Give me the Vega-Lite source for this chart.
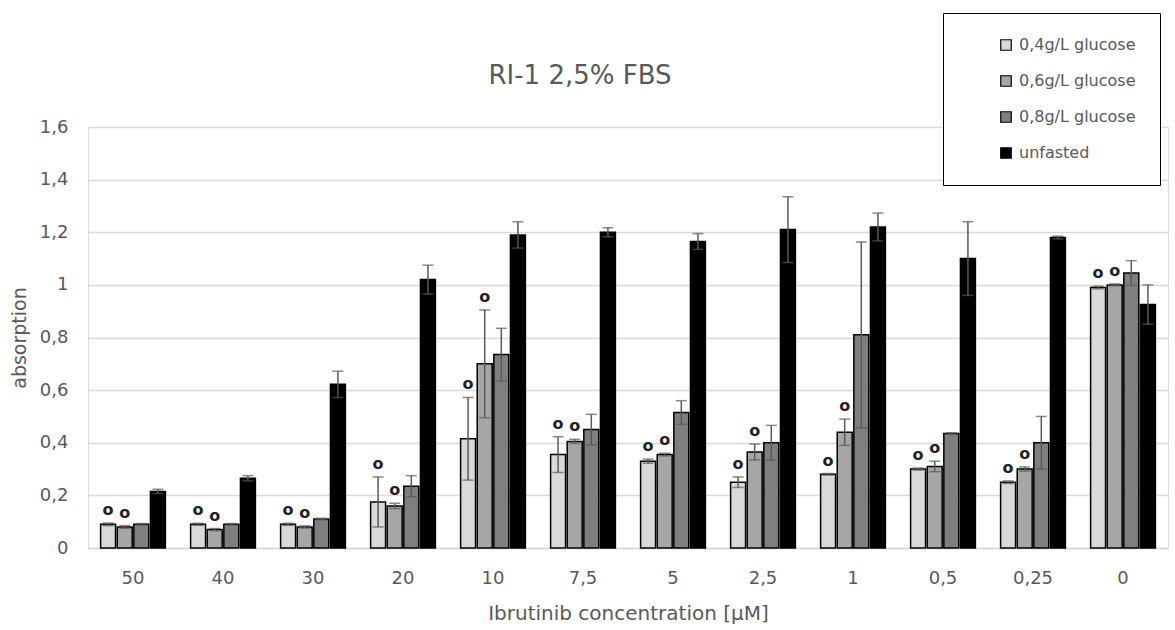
{
  "$schema": "https://vega.github.io/schema/vega-lite/v6.json",
  "width": 1080,
  "height": 421,
  "autosize": {"type": "none"},
  "padding": {"left": 88, "top": 127, "right": 7, "bottom": 82},
  "background": "white",
  "title": {
    "text": "RI-1 2,5% FBS",
    "font": "DejaVu Sans",
    "fontSize": 26,
    "fontWeight": "normal",
    "color": "#595959",
    "anchor": "middle",
    "frame": "group",
    "baseline": "alphabetic",
    "offset": -97,
    "dx": -48
  },
  "data": {
    "values": [
      {"conc": "50", "series": "0,4g/L glucose", "value": 0.09, "lo": 0.085, "hi": 0.095, "sig": "o"},
      {"conc": "50", "series": "0,6g/L glucose", "value": 0.08, "lo": 0.075, "hi": 0.085, "sig": "o"},
      {"conc": "50", "series": "0,8g/L glucose", "value": 0.09, "lo": 0.087, "hi": 0.093, "sig": ""},
      {"conc": "50", "series": "unfasted", "value": 0.215, "lo": 0.207, "hi": 0.223, "sig": ""},
      {"conc": "40", "series": "0,4g/L glucose", "value": 0.09, "lo": 0.086, "hi": 0.094, "sig": "o"},
      {"conc": "40", "series": "0,6g/L glucose", "value": 0.07, "lo": 0.066, "hi": 0.074, "sig": "o"},
      {"conc": "40", "series": "0,8g/L glucose", "value": 0.09, "lo": 0.087, "hi": 0.093, "sig": ""},
      {"conc": "40", "series": "unfasted", "value": 0.265, "lo": 0.255, "hi": 0.275, "sig": ""},
      {"conc": "30", "series": "0,4g/L glucose", "value": 0.09, "lo": 0.086, "hi": 0.094, "sig": "o"},
      {"conc": "30", "series": "0,6g/L glucose", "value": 0.08, "lo": 0.076, "hi": 0.084, "sig": "o"},
      {"conc": "30", "series": "0,8g/L glucose", "value": 0.11, "lo": 0.107, "hi": 0.113, "sig": ""},
      {"conc": "30", "series": "unfasted", "value": 0.622, "lo": 0.572, "hi": 0.672, "sig": ""},
      {"conc": "20", "series": "0,4g/L glucose", "value": 0.175, "lo": 0.08, "hi": 0.27, "sig": "o"},
      {"conc": "20", "series": "0,6g/L glucose", "value": 0.16, "lo": 0.15, "hi": 0.17, "sig": "o"},
      {"conc": "20", "series": "0,8g/L glucose", "value": 0.235, "lo": 0.195, "hi": 0.275, "sig": ""},
      {"conc": "20", "series": "unfasted", "value": 1.02, "lo": 0.965, "hi": 1.075, "sig": ""},
      {"conc": "10", "series": "0,4g/L glucose", "value": 0.415, "lo": 0.258, "hi": 0.572, "sig": "o"},
      {"conc": "10", "series": "0,6g/L glucose", "value": 0.7, "lo": 0.495, "hi": 0.905, "sig": "o"},
      {"conc": "10", "series": "0,8g/L glucose", "value": 0.735, "lo": 0.635, "hi": 0.835, "sig": ""},
      {"conc": "10", "series": "unfasted", "value": 1.19, "lo": 1.14, "hi": 1.24, "sig": ""},
      {"conc": "7,5", "series": "0,4g/L glucose", "value": 0.355, "lo": 0.287, "hi": 0.423, "sig": "o"},
      {"conc": "7,5", "series": "0,6g/L glucose", "value": 0.405, "lo": 0.397, "hi": 0.413, "sig": "o"},
      {"conc": "7,5", "series": "0,8g/L glucose", "value": 0.45, "lo": 0.392, "hi": 0.508, "sig": ""},
      {"conc": "7,5", "series": "unfasted", "value": 1.2, "lo": 1.183, "hi": 1.217, "sig": ""},
      {"conc": "5", "series": "0,4g/L glucose", "value": 0.33, "lo": 0.322, "hi": 0.338, "sig": "o"},
      {"conc": "5", "series": "0,6g/L glucose", "value": 0.355, "lo": 0.35, "hi": 0.36, "sig": "o"},
      {"conc": "5", "series": "0,8g/L glucose", "value": 0.515, "lo": 0.47, "hi": 0.56, "sig": ""},
      {"conc": "5", "series": "unfasted", "value": 1.165, "lo": 1.135, "hi": 1.195, "sig": ""},
      {"conc": "2,5", "series": "0,4g/L glucose", "value": 0.25, "lo": 0.23, "hi": 0.27, "sig": "o"},
      {"conc": "2,5", "series": "0,6g/L glucose", "value": 0.365, "lo": 0.335, "hi": 0.395, "sig": "o"},
      {"conc": "2,5", "series": "0,8g/L glucose", "value": 0.4, "lo": 0.334, "hi": 0.466, "sig": ""},
      {"conc": "2,5", "series": "unfasted", "value": 1.21, "lo": 1.085, "hi": 1.335, "sig": ""},
      {"conc": "1", "series": "0,4g/L glucose", "value": 0.28, "lo": 0.277, "hi": 0.283, "sig": "o"},
      {"conc": "1", "series": "0,6g/L glucose", "value": 0.44, "lo": 0.39, "hi": 0.49, "sig": "o"},
      {"conc": "1", "series": "0,8g/L glucose", "value": 0.81, "lo": 0.457, "hi": 1.163, "sig": ""},
      {"conc": "1", "series": "unfasted", "value": 1.22, "lo": 1.167, "hi": 1.273, "sig": ""},
      {"conc": "0,5", "series": "0,4g/L glucose", "value": 0.3, "lo": 0.296, "hi": 0.304, "sig": "o"},
      {"conc": "0,5", "series": "0,6g/L glucose", "value": 0.31, "lo": 0.29, "hi": 0.33, "sig": "o"},
      {"conc": "0,5", "series": "0,8g/L glucose", "value": 0.435, "lo": 0.432, "hi": 0.438, "sig": ""},
      {"conc": "0,5", "series": "unfasted", "value": 1.1, "lo": 0.96, "hi": 1.24, "sig": ""},
      {"conc": "0,25", "series": "0,4g/L glucose", "value": 0.25, "lo": 0.245, "hi": 0.255, "sig": "o"},
      {"conc": "0,25", "series": "0,6g/L glucose", "value": 0.3, "lo": 0.292, "hi": 0.308, "sig": "o"},
      {"conc": "0,25", "series": "0,8g/L glucose", "value": 0.4, "lo": 0.3, "hi": 0.5, "sig": ""},
      {"conc": "0,25", "series": "unfasted", "value": 1.18, "lo": 1.175, "hi": 1.185, "sig": ""},
      {"conc": "0", "series": "0,4g/L glucose", "value": 0.99, "lo": 0.985, "hi": 0.995, "sig": "o"},
      {"conc": "0", "series": "0,6g/L glucose", "value": 1.0, "lo": 0.997, "hi": 1.003, "sig": "o"},
      {"conc": "0", "series": "0,8g/L glucose", "value": 1.045, "lo": 0.998, "hi": 1.092, "sig": ""},
      {"conc": "0", "series": "unfasted", "value": 0.925, "lo": 0.85, "hi": 1.0, "sig": ""}
    ]
  },
  "encoding": {
    "x": {
      "field": "conc",
      "type": "nominal",
      "sort": ["50", "40", "30", "20", "10", "7,5", "5", "2,5", "1", "0,5", "0,25", "0"],
      "scale": {"paddingInner": 0.28, "paddingOuter": 0.14},
      "axis": {
        "title": "Ibrutinib concentration [µM]",
        "labelAngle": 0,
        "ticks": false,
        "domainColor": "#d9d9d9",
        "domainWidth": 1.5,
        "labelFont": "DejaVu Sans",
        "labelFontSize": 18,
        "labelColor": "#595959",
        "labelPadding": 21,
        "titleFont": "DejaVu Sans",
        "titleFontSize": 20,
        "titleFontWeight": "normal",
        "titleColor": "#595959",
        "titlePadding": 16
      }
    },
    "xOffset": {
      "field": "series",
      "type": "nominal",
      "sort": ["0,4g/L glucose", "0,6g/L glucose", "0,8g/L glucose", "unfasted"],
      "scale": {"paddingInner": 0.1, "paddingOuter": 0}
    }
  },
  "layer": [
    {
      "mark": {"type": "bar", "stroke": "black", "strokeWidth": 1.5},
      "encoding": {
        "y": {
          "field": "value",
          "type": "quantitative",
          "scale": {"domain": [0, 1.6], "nice": false},
          "axis": {
            "title": "absorption",
            "values": [0, 0.2, 0.4, 0.6, 0.8, 1, 1.2, 1.4, 1.6],
            "format": "~g",
            "labelExpr": "replace(datum.label, '.', ',')",
            "domain": false,
            "ticks": false,
            "grid": true,
            "gridColor": "#d9d9d9",
            "gridWidth": 1.5,
            "labelFont": "DejaVu Sans",
            "labelFontSize": 18,
            "labelColor": "#595959",
            "labelPadding": 20,
            "titleFont": "DejaVu Sans",
            "titleFontSize": 19,
            "titleFontWeight": "normal",
            "titleColor": "#595959",
            "titlePadding": 10
          }
        },
        "color": {
          "field": "series",
          "type": "nominal",
          "sort": ["0,4g/L glucose", "0,6g/L glucose", "0,8g/L glucose", "unfasted"],
          "scale": {
            "domain": ["0,4g/L glucose", "0,6g/L glucose", "0,8g/L glucose", "unfasted"],
            "range": ["#d9d9d9", "#a6a6a6", "#7f7f7f", "#000000"]
          },
          "legend": {
            "title": null,
            "orient": "none",
            "legendX": 855,
            "legendY": -114,
            "strokeColor": "black",
            "fillColor": "white",
            "padding": 24,
            "symbolType": "square",
            "symbolSize": 110,
            "symbolStrokeColor": "black",
            "symbolStrokeWidth": 1.2,
            "symbolOffset": 31,
            "labelOffset": 5,
            "rowPadding": 20,
            "labelFont": "DejaVu Sans",
            "labelFontSize": 16,
            "labelColor": "#595959"
          }
        }
      }
    },
    {
      "mark": {"type": "rule", "color": "#595959", "strokeWidth": 1.5},
      "encoding": {
        "y": {"field": "lo", "type": "quantitative"},
        "y2": {"field": "hi"}
      }
    },
    {
      "mark": {"type": "tick", "color": "#595959", "thickness": 1.5, "size": 11, "orient": "horizontal"},
      "encoding": {"y": {"field": "hi", "type": "quantitative"}}
    },
    {
      "mark": {"type": "tick", "color": "#595959", "thickness": 1.5, "size": 11, "orient": "horizontal"},
      "encoding": {"y": {"field": "lo", "type": "quantitative"}}
    },
    {
      "transform": [{"filter": "datum.sig == 'o'"}],
      "mark": {
        "type": "text",
        "font": "DejaVu Sans",
        "fontSize": 16,
        "fontWeight": "bold",
        "color": "#222222",
        "baseline": "middle",
        "dy": -13
      },
      "encoding": {
        "y": {"field": "hi", "type": "quantitative"},
        "text": {"field": "sig"}
      }
    }
  ]
}
